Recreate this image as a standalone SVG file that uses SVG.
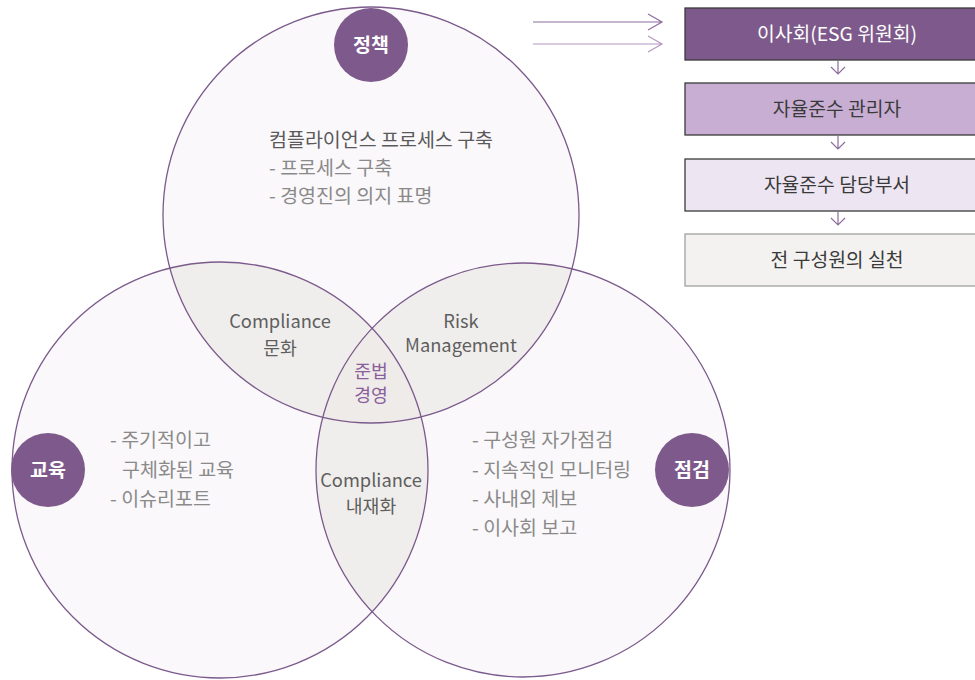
<svg xmlns="http://www.w3.org/2000/svg" width="975" height="680" viewBox="0 0 975 680">
<style>
text{font-family:"Noto Sans CJK KR","Noto Sans",sans-serif;}
.big{fill:#faf8fa;stroke:none}
.ring{fill:none;stroke:#7b5a8c;stroke-width:1.3}
.lens{fill:#f0eeec}
.dot{fill:#7e5a8c}
.dl{fill:#fff;font-size:19.5px;font-weight:bold;text-anchor:middle}
.hd{fill:#5a5a5a;font-size:19.5px}
.it{fill:#8a8a8a;font-size:19.5px}
.ov{fill:#5e5e5e;font-size:18.3px;text-anchor:middle}
.bx{stroke:#3a3a3a;stroke-width:1.3}
.bt{font-size:19.3px;text-anchor:middle;fill:#3a3a3a}
.arr{fill:none;stroke:#8e6c9e;stroke-width:1.2}
</style>
<defs>
<clipPath id="cT"><circle cx="371" cy="215" r="208"/></clipPath>
<clipPath id="cL"><circle cx="220" cy="470" r="208"/></clipPath>
<clipPath id="cR"><circle cx="523" cy="470" r="207"/></clipPath>
</defs>
<g id="venn">
<circle class="big" cx="371" cy="215" r="208"/>
<circle class="big" cx="220" cy="470" r="208"/>
<circle class="big" cx="523" cy="470" r="207"/>
<g clip-path="url(#cT)"><circle class="lens" cx="220" cy="470" r="208"/><circle class="lens" cx="523" cy="470" r="207"/></g>
<g clip-path="url(#cL)"><circle class="lens" cx="523" cy="470" r="207"/></g>
<g clip-path="url(#cT)"><g clip-path="url(#cL)"><circle cx="523" cy="470" r="207" fill="#eeebe9"/></g></g>
<circle class="ring" cx="371" cy="215" r="208"/>
<circle class="ring" cx="220" cy="470" r="208"/>
<circle class="ring" cx="523" cy="470" r="207"/>
</g>
<g id="node-policy">
<circle class="dot" cx="371" cy="45" r="37"/>
<text class="dl" x="371" y="52">정책</text>
</g>
<g id="node-edu">
<circle class="dot" cx="48" cy="470" r="37"/>
<text class="dl" x="48" y="477">교육</text>
</g>
<g id="node-check">
<circle class="dot" cx="692" cy="470" r="37"/>
<text class="dl" x="692" y="477">점검</text>
</g>
<g id="text-policy">
<text class="hd" x="269" y="147">컴플라이언스 프로세스 구축</text>
<text class="it" x="269" y="175">- 프로세스 구축</text>
<text class="it" x="269" y="203">- 경영진의 의지 표명</text>
</g>
<g id="text-edu">
<text class="it" x="110" y="447">- 주기적이고</text>
<text class="it" x="122" y="477">구체화된 교육</text>
<text class="it" x="110" y="506">- 이슈리포트</text>
</g>
<g id="text-check">
<text class="it" x="472" y="447">- 구성원 자가점검</text>
<text class="it" x="472" y="477">- 지속적인 모니터링</text>
<text class="it" x="472" y="506">- 사내외 제보</text>
<text class="it" x="472" y="535">- 이사회 보고</text>
</g>
<g id="overlap-labels">
<text class="ov" x="280" y="328">Compliance</text>
<text class="ov" x="280" y="355">문화</text>
<text class="ov" x="461" y="328">Risk</text>
<text class="ov" x="461" y="352">Management</text>
<text class="ov" x="371" y="378" style="fill:#8a5f9b">준법</text>
<text class="ov" x="371" y="402" style="fill:#8a5f9b">경영</text>
<text class="ov" x="371" y="487">Compliance</text>
<text class="ov" x="371" y="513">내재화</text>
</g>
<g id="box1"><rect class="bx" x="685" y="8" width="295" height="52" fill="#7e5a8c"/><text class="bt" x="837" y="41" style="fill:#fff">이사회(ESG 위원회)</text></g>
<g id="box2"><rect class="bx" x="685" y="83" width="295" height="52" fill="#c8aed3"/><text class="bt" x="837" y="116">자율준수 관리자</text></g>
<g id="box3"><rect class="bx" x="685" y="159" width="295" height="52" fill="#ede6f2"/><text class="bt" x="837" y="192">자율준수 담당부서</text></g>
<g id="box4"><rect x="685" y="234" width="295" height="52" fill="#f3f2f1" stroke="#a0a0a0" stroke-width="1.3"/><text class="bt" x="837" y="267">전 구성원의 실천</text></g>
<g id="connectors">
<path class="arr" d="M533 22H662M648 14L662 22L648 30"/>
<path class="arr" d="M533 44H662M648 36L662 44L648 52" style="stroke:#b597c3"/>
<path class="arr" d="M838 61V74M831 67L838 74L845 67"/>
<path class="arr" d="M838 136V149M831 142L838 149L845 142"/>
<path class="arr" d="M838 212V225M831 218L838 225L845 218"/>
</g>
</svg>
